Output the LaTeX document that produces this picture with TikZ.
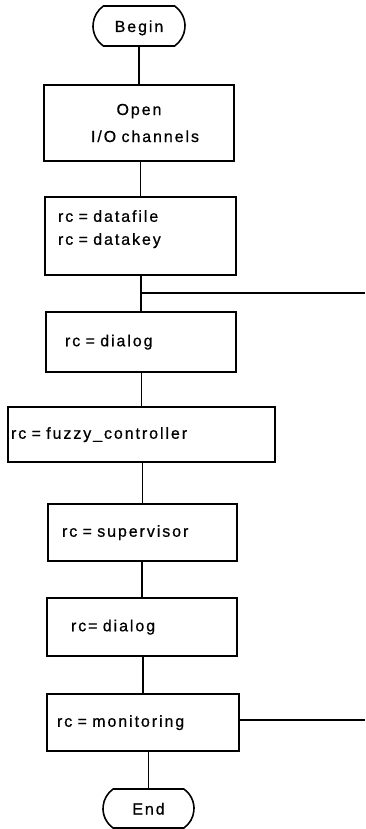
\documentclass[tikz,border=0pt]{standalone}
\usepackage{fontspec}
\setmainfont{Liberation Sans}[LetterSpace=12,FakeBold=0.7]
\usetikzlibrary{shapes.misc}
\tikzset{
  proc/.style={draw, line width=1.6pt, inner ysep=0pt, align=left,
    font=\fontsize{16}{23}\selectfont},
  oneline/.style={text height=12pt, text depth=3.5pt},
  term/.style={draw, line width=1.6pt, rounded rectangle,
    rounded rectangle arc length=110, inner sep=0pt, text height=12pt,
    text depth=0pt, font=\fontsize{16}{20}\selectfont},
  link/.style={line width=1.6pt}
}
\begin{document}
\begin{tikzpicture}[x=1pt,y=1pt]
\useasboundingbox[fill=white] (0,0) rectangle (365,-829);
\node[term, minimum width=92pt, minimum height=40pt] (begin) at (139,-26) {Begin};
\node[proc, align=center, text width=170pt, inner xsep=10pt, minimum height=76pt,
  font=\fontsize{16}{27}\selectfont] (open) at (139,-123) {Open\\\hspace*{12pt}I/O channels};
\node[proc, text width=165pt, inner xsep=13pt, minimum height=78pt] (file) at (140.5,-236)
  {rc = datafile\\rc = datakey\rule[-17pt]{0pt}{0pt}};
\node[proc, oneline, text width=152pt, inner xsep=19pt, minimum height=60pt] (dial) at (141,-342) {rc = dialog};
\node[proc, oneline, text width=261pt, inner xsep=3pt, minimum height=55pt] (fuzzy) at (141.5,-434.5) {rc = fuzzy\_controller};
\node[proc, oneline, text width=161pt, inner xsep=14pt, minimum height=57pt] (sup) at (142.5,-532.5) {rc = supervisor};
\node[proc, oneline, text width=142pt, inner xsep=24pt, minimum height=58pt] (dialb) at (142,-627) {rc= dialog};
\node[proc, oneline, text width=172pt, inner xsep=10pt, minimum height=57pt] (mon) at (143,-722.5) {rc = monitoring};
\node[term, minimum width=91pt, minimum height=39pt] (end) at (148.5,-808.5) {End};
\coordinate (br1) at (365,-293);
\coordinate (br2) at (365,-720);
\draw[link] (open.north) -- (open.north |- begin.south);
\draw[link] (file.north) -- (file.north |- open.south);
\draw[link] (dial.north) -- (dial.north |- file.south);
\draw[link] (fuzzy.north) -- (fuzzy.north |- dial.south);
\draw[link] (sup.north) -- (sup.north |- fuzzy.south);
\draw[link] (dialb.north) -- (dialb.north |- sup.south);
\draw[link] (mon.north) -- (mon.north |- dialb.south);
\draw[link] (end.north) -- (end.north |- mon.south);
\draw[link] (dial.north |- br1) -- (br1);
\draw[link] (mon.east |- br2) -- (br2);
\end{tikzpicture}
\end{document}
